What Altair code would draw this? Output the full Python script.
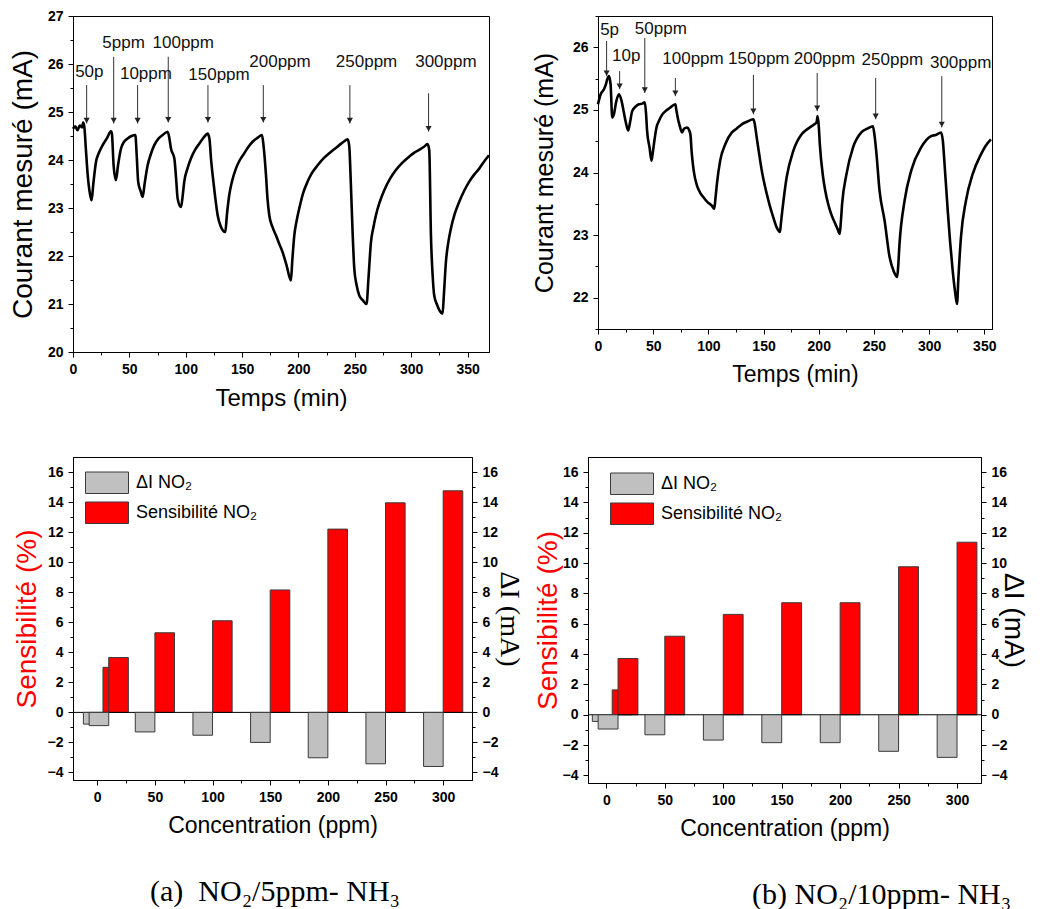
import altair as alt
import pandas as pd

SANS = "Liberation Sans"
SERIF = "Liberation Serif"
RED = "#ff0000"
GREY = "#c0c0c0"
EDGE = "#3a3a3a"

# ---------------- (a) top : measured current vs time (NO2 in 5 ppm NH3)
A_T = [0, 2, 4, 6, 8, 9, 10, 11.5, 13, 15, 16.5, 18, 20.4, 23, 26.3, 30, 33.7, 34.5, 36, 38.1,
       40, 42.6, 45, 48.5, 52, 55.3, 56.5, 57.8, 60, 61.8, 63.5, 66.2, 69, 72.1, 76, 79.5, 84,
       85.5, 86.9, 89.9, 91.5, 92.8, 95.8, 97.5, 98.7, 101.5, 104.6, 108, 112, 116, 119.4, 121,
       122.5, 123.9, 126, 128.3, 131, 135.1, 136.5, 138.6, 141, 144.5, 148, 151.9, 155.5, 159.3,
       163.5, 167.6, 169, 171.2, 172.5, 174.1, 177, 180, 183, 185.9, 189.5, 193.3, 194.5, 196.3,
       198.5, 200.7, 204, 208.1, 212, 217, 222, 227.3, 232, 236.2, 240, 243.6, 245, 246.5, 248,
       249.5, 251.5, 253.9, 257, 260.4, 262, 264.3, 266.5, 268.7, 272, 276.1, 281, 286.4, 292,
       298.2, 302.5, 307.1, 311, 314.5, 316, 317.5, 319, 320.4, 323, 325.5, 327.8, 329, 330.8,
       333, 335.2, 338.5, 342.6, 347, 351.5, 356, 360.3, 365, 369]
A_I = [24.65, 24.70, 24.62, 24.72, 24.68, 24.78, 24.70, 24.2, 23.7, 23.3, 23.16, 23.5, 23.96,
       24.15, 24.31, 24.45, 24.60, 24.55, 23.9, 23.58, 23.9, 24.24, 24.37, 24.45, 24.50, 24.52,
       24.1, 23.55, 23.35, 23.23, 23.5, 23.89, 24.12, 24.31, 24.45, 24.52, 24.59, 24.45, 24.24,
       24.03, 23.6, 23.2, 23.02, 23.3, 23.55, 23.82, 24.03, 24.2, 24.34, 24.47, 24.55, 24.45,
       24.0, 23.68, 23.25, 22.85, 22.62, 22.5, 22.85, 23.27, 23.55, 23.82, 24.0, 24.14, 24.27,
       24.38, 24.46, 24.52, 24.3, 23.68, 23.2, 22.85, 22.6, 22.43, 22.25, 22.08, 21.8, 21.49,
       21.9, 22.43, 22.75, 22.99, 23.3, 23.55, 23.73, 23.89, 24.03, 24.14, 24.23, 24.31, 24.38,
       24.43, 24.3, 23.48, 22.5, 21.74, 21.4, 21.18, 21.08, 21.0, 21.5, 22.29, 22.6, 22.85,
       23.12, 23.37, 23.6, 23.79, 23.94, 24.07, 24.15, 24.21, 24.27, 24.33, 24.2, 22.43, 21.6,
       21.18, 20.98, 20.85, 20.8, 21.2, 21.88, 22.3, 22.57, 22.87, 23.13, 23.36, 23.55, 23.7,
       23.82, 23.98, 24.1]
A_LAB = ["50p", "5ppm", "10ppm", "100ppm", "150ppm", "200ppm", "250ppm", "300ppm"]
A_LAB_T = [14.5, 44.9, 64.7, 97.8, 129.5, 183.6, 260.4, 330.8]
A_LAB_Y = [25.84, 26.43, 25.80, 26.43, 25.77, 26.05, 26.05, 26.05]
A_ARR_T = [12.1, 36.1, 57.3, 84.5, 119.7, 168.8, 245.6, 315.4]
A_ARR_TOP = [25.56, 26.15, 25.56, 26.15, 25.56, 25.56, 25.56, 25.39]
A_ARR_TIP = [24.76, 24.76, 24.76, 24.78, 24.78, 24.78, 24.76, 24.59]

# ---------------- (b) top : measured current vs time (NO2 in 10 ppm NH3)
B_T = [0, 2.4, 5.4, 7, 8.4, 9.9, 11.4, 12.9, 14.4, 16.6, 19, 21.4, 23, 25, 27.4, 29, 31, 34, 37,
       40, 42.4, 43.5, 44.5, 46.7, 48.5, 49.5, 51.5, 53, 55.1, 58, 61.1, 65, 70.1, 71, 72.2, 74,
       76.1, 78, 80.7, 82.5, 83.7, 85, 86.7, 89.7, 92.5, 95.7, 99, 103.2, 105.3, 106.5, 107.7,
       110.7, 115.3, 121.3, 125.5, 130.3, 135, 140.8, 142, 143.8, 146, 148.4, 152.9, 155.5,
       158.9, 162, 164.9, 165.8, 167, 170.9, 176.9, 184.5, 188, 192, 196, 198, 199, 200, 201,
       204, 206, 208.5, 211, 214.5, 217, 219, 220, 221.2, 225.1, 231.1, 238.6, 244, 249.1,
       250.5, 252.1, 255.1, 259.7, 264.2, 268, 271.1, 272, 273.2, 277.8, 283.8, 292.8, 301.8,
       306, 310.8, 312.5, 313.8, 316.9, 319, 321.4, 323.5, 325.3, 326.5, 328.9, 333.4, 339.4,
       347, 351, 356]
B_I = [25.09, 25.25, 25.33, 25.40, 25.49, 25.54, 25.41, 24.88, 24.93, 25.14, 25.25, 25.14, 25.0,
       24.82, 24.67, 24.8, 24.98, 25.05, 25.09, 25.10, 25.12, 24.95, 24.66, 24.40, 24.19, 24.3,
       24.56, 24.72, 24.82, 24.92, 24.98, 25.03, 25.09, 25.0, 24.88, 24.75, 24.64, 24.70, 24.72,
       24.68, 24.61, 24.3, 24.03, 23.79, 23.68, 23.60, 23.53, 23.47, 23.42, 23.6, 23.81, 24.19,
       24.45, 24.64, 24.70, 24.77, 24.81, 24.85, 24.78, 24.56, 24.3, 24.03, 23.66, 23.48, 23.28,
       23.12, 23.05, 23.2, 23.39, 23.92, 24.34, 24.61, 24.67, 24.72, 24.77, 24.80, 24.9, 24.75,
       24.45, 23.92, 23.7, 23.50, 23.35, 23.20, 23.1, 23.02, 23.2, 23.50, 23.97, 24.40, 24.64,
       24.70, 24.74, 24.6, 24.34, 23.71, 23.23, 22.65, 22.42, 22.33, 22.5, 22.86, 23.55, 24.03,
       24.40, 24.58, 24.60, 24.64, 24.5, 24.19, 23.39, 22.9, 22.43, 22.1, 21.90, 22.3, 22.97,
       23.55, 23.97, 24.29, 24.42, 24.53]
B_LAB = ["5p", "10p", "50ppm", "100ppm", "150ppm", "200ppm", "250ppm", "300ppm"]
B_LAB_T = [10.5, 25.6, 56.9, 86.1, 145.7, 205.2, 266.7, 328.6]
B_LAB_Y = [26.28, 25.86, 26.30, 25.82, 25.82, 25.82, 25.80, 25.75]
B_ARR_T = [7.8, 19.6, 42.4, 70.1, 140.8, 198.6, 251.6, 311.5]
B_ARR_TOP = [26.10, 25.62, 26.15, 25.51, 25.56, 25.59, 25.51, 25.54]
B_ARR_TIP = [25.54, 25.33, 25.27, 25.22, 24.93, 24.98, 24.85, 24.72]

# ---------------- bottom : sensitivity and current change vs concentration
CONC = [5, 10, 50, 100, 150, 200, 250, 300]
A_SENS = [3.0, 3.65, 5.3, 6.1, 8.15, 12.2, 13.95, 14.75]
A_DI = [-0.78, -0.88, -1.3, -1.52, -2.0, -3.02, -3.42, -3.6]
B_SENS = [1.64, 3.71, 5.18, 6.62, 7.39, 7.39, 9.76, 11.38]
B_DI = [-0.44, -0.94, -1.32, -1.67, -1.84, -1.84, -2.41, -2.81]
SERIES = ["ΔI NO₂", "Sensibilité NO₂"]
BAR_W = 17  # bar width in ppm

TIME_TICKS = list(range(0, 351, 25))
CONC_TICKS = list(range(0, 301, 25))
A_YTICKS = [20 + 0.5 * k for k in range(15)]
B_YTICKS = [21.5 + 0.5 * k for k in range(11)]
BAR_YTICKS = list(range(-4, 17))


def axis(title, values, major, **kw):
    return alt.Axis(
        title=title, values=values, format=".0f",
        labelExpr=f"datum.value % {major} === 0 ? datum.label : ''",
        tickSize={"condition": {"test": f"datum.value % {major} !== 0", "value": 3}, "value": 5},
        labelFlush=False, labelOverlap=False, grid=False, labelPadding=5,
        labelFont=SANS, labelFontSize=14, labelFontWeight="bold", labelColor="black", **kw)


def time_panel(t, cur, lab, lab_t, lab_y, ar_t, ar_top, ar_tip, xdom, ydom, yticks,
               w, h, ytitle_size, ytitle_pad, xtitle_size):
    df = pd.DataFrame({"t": t, "i": cur})
    ann = pd.DataFrame({"lab": lab, "lt": lab_t, "ly": lab_y,
                        "at": ar_t, "atop": ar_top, "atip": ar_tip})
    xs = alt.Scale(domain=xdom, nice=False, zero=False)
    ys = alt.Scale(domain=ydom, nice=False, zero=False)
    xa = axis("Temps (min)", TIME_TICKS, 50, titleFontSize=xtitle_size, titlePadding=10)
    ya = axis("Courant mesuré (mA)", yticks, 1, titleFontSize=ytitle_size,
              titlePadding=ytitle_pad)
    line = alt.Chart(df).mark_line(color="black", strokeWidth=2.6, interpolate="monotone").encode(
        x=alt.X("t:Q", scale=xs, axis=xa), y=alt.Y("i:Q", scale=ys, axis=ya))
    rules = alt.Chart(ann).mark_rule(color="#333333", strokeWidth=1).encode(
        x=alt.X("at:Q", scale=xs, axis=xa), y=alt.Y("atop:Q", scale=ys, axis=ya), y2="atip:Q")
    heads = alt.Chart(ann).mark_point(shape="triangle-down", filled=True, color="#222222",
                                      size=38, opacity=1, yOffset=-3).encode(
        x=alt.X("at:Q", scale=xs, axis=xa), y=alt.Y("atip:Q", scale=ys, axis=ya))
    texts = alt.Chart(ann).mark_text(font=SANS, fontSize=17, color="#111111",
                                     align="center", baseline="middle").encode(
        x=alt.X("lt:Q", scale=xs, axis=xa), y=alt.Y("ly:Q", scale=ys, axis=ya), text="lab:N")
    return alt.layer(line, rules, heads, texts).properties(width=w, height=h)


def bar_panel(sens, di, xdom, w, h, lx, ly, left_pad, right_pad, right_font, caption, cap_dx):
    rows = []
    for c, s, d in zip(CONC, sens, di):
        rows.append({"conc": c, "x0": c - BAR_W, "x1": c, "v": d, "series": SERIES[0]})
    for c, s, d in zip(CONC, sens, di):
        rows.append({"conc": c, "x0": c, "x1": c + BAR_W, "v": s, "series": SERIES[1]})
    df = pd.DataFrame(rows)
    xs = alt.Scale(domain=xdom, nice=False, zero=False)
    ys = alt.Scale(domain=[-4.5, 17], nice=False, zero=False)
    xa = axis("Concentration (ppm)", CONC_TICKS, 50, titleFontSize=23, titlePadding=10)
    ya_left = axis("Sensibilité (%)", BAR_YTICKS, 2, titleFontSize=28, titleColor=RED,
                   titlePadding=left_pad)
    ya_right = axis("ΔI (mA)", BAR_YTICKS, 2, orient="right", titleFontSize=28,
                    titleFont=right_font, titlePadding=right_pad)
    color = alt.Color("series:N", scale=alt.Scale(domain=SERIES, range=[GREY, RED]),
                      legend=alt.Legend(title=None, orient="none", legendX=lx, legendY=ly,
                                        symbolType="M-1,-0.5L1,-0.5L1,0.5L-1,0.5Z",
                                        symbolSize=1849, symbolStrokeColor=EDGE,
                                        symbolStrokeWidth=1, symbolOpacity=1,
                                        labelFont=SANS, labelFontSize=18, labelColor="black",
                                        labelOffset=7, rowPadding=0, clipHeight=29.5,
                                        padding=0))
    red = alt.Chart(df).transform_filter(alt.datum.series == SERIES[1]).mark_bar(
        stroke=EDGE, strokeWidth=1).encode(
        x=alt.X("x0:Q", scale=xs, axis=xa), x2="x1:Q",
        y=alt.Y("v:Q", scale=ys, axis=ya_left), y2=alt.datum(0), color=color)
    zero = alt.Chart(pd.DataFrame({"z": [0]})).mark_rule(color="black", strokeWidth=1).encode(
        y=alt.Y("z:Q", scale=ys, axis=ya_left))
    grey = alt.Chart(df).transform_filter(alt.datum.series == SERIES[0]).mark_bar(
        stroke=EDGE, strokeWidth=1).encode(
        x=alt.X("x0:Q", scale=xs, axis=xa), x2="x1:Q",
        y=alt.Y("v:Q", scale=ys, axis=ya_right), y2=alt.datum(0), color=color)
    return alt.layer(alt.layer(red, zero), grey).resolve_scale(y="independent").properties(
        width=w, height=h,
        title=alt.TitleParams(text=caption, orient="bottom", anchor="start", frame="group",
                              dx=cap_dx, offset=40, font=SERIF, fontSize=30,
                              fontWeight="normal", color="black"))


pa = time_panel(A_T, A_I, A_LAB, A_LAB_T, A_LAB_Y, A_ARR_T, A_ARR_TOP, A_ARR_TIP,
                [0, 369], [20, 27], A_YTICKS, 416, 336, 28, 10, 24)
pb = time_panel(B_T, B_I, B_LAB, B_LAB_T, B_LAB_Y, B_ARR_T, B_ARR_TOP, B_ARR_TIP,
                [0, 357], [21.5, 26.5], B_YTICKS, 394, 313, 25, 15, 23)
pc = bar_panel(A_SENS, A_DI, [-21, 325], 399, 323, 12, 11, 6, -3, SERIF,
               "(a)\u00a0 NO₂/5ppm- NH₃", 77)
pd_ = bar_panel(B_SENS, B_DI, [-15.7, 320.5], 393, 326, 22, 12, 0, -8, SANS,
                "(b) NO₂/10ppm- NH₃", 164)

row1 = alt.hconcat(pa, pb, spacing=36)
row2 = alt.hconcat(pc, pd_, spacing=9).resolve_scale(color="independent").resolve_legend(
    color="independent")

chart = alt.concat(row1, row2, columns=1, align="none", spacing=45).resolve_scale(
    color="independent").resolve_legend(color="independent").properties(
    padding={"top": 0, "left": 0, "right": 6, "bottom": 0}).configure(
    font=SANS
).configure_view(stroke="black", strokeWidth=1).configure_axis(
    labelFont=SANS, labelFontSize=14, labelFontWeight="bold", labelColor="black",
    tickColor="black", domainColor="black", tickWidth=1, domainWidth=1,
    titleFont=SANS, titleFontWeight="normal", titleColor="black"
)

chart.save("out.html", embed_options={"renderer": "svg", "actions": False})
